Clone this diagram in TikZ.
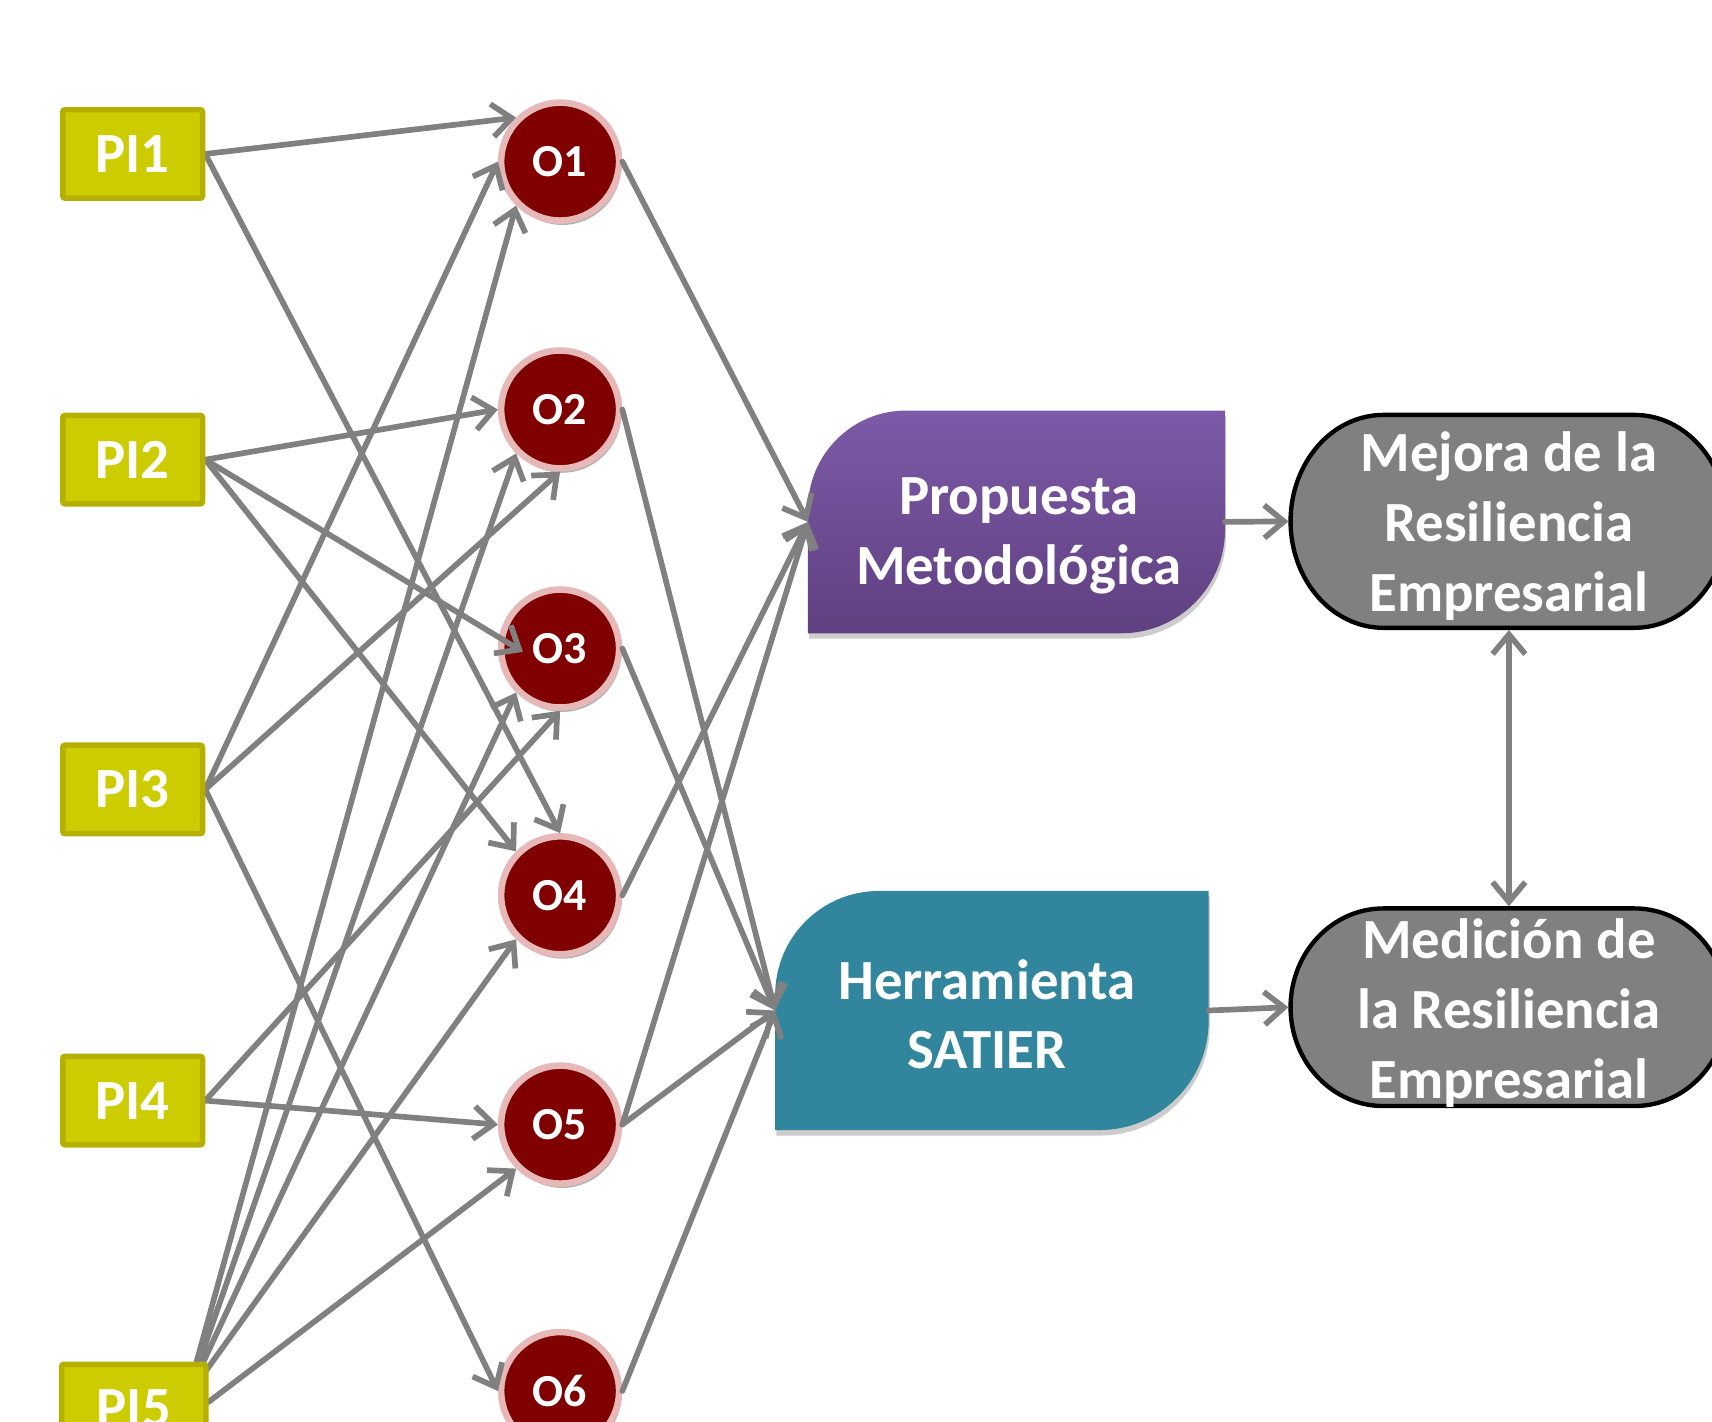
\documentclass[tikz,border=0pt]{standalone}
\usepackage{fontspec}
\setmainfont{Carlito}
\usetikzlibrary{arrows.meta,shadows}
\definecolor{piFill}{HTML}{CCCC00}
\definecolor{piBorder}{HTML}{B5B000}
\definecolor{oFill}{HTML}{800000}
\definecolor{oRing}{HTML}{E6B9B8}
\definecolor{lineGrey}{HTML}{808080}
\definecolor{pmTop}{HTML}{7D5AA8}
\definecolor{pmBot}{HTML}{5F4080}
\definecolor{hsFill}{HTML}{31869E}
\definecolor{boxGrey}{HTML}{808080}
\pgfdeclarelayer{fg}
\pgfsetlayers{main,fg}
\begin{document}
\begin{tikzpicture}[x=0.5pt,y=-0.5pt,
  arr/.style={draw=lineGrey,line width=2.6pt,line cap=round,-{Straight Barb[length=9pt,width=15pt]}},
  dblarr/.style={draw=lineGrey,line width=2.6pt,{Straight Barb[length=9pt,width=15pt]}-{Straight Barb[length=9pt,width=15pt]}},
  pibox/.style={rectangle,fill=piFill,draw=piBorder,line width=2.5pt,minimum width=64pt,minimum height=40.5pt,rounded corners=1pt,inner sep=0pt,text=white,font=\fontsize{26}{30}\selectfont\bfseries},
  ocirc/.style={circle,fill=oFill,draw=oRing,line width=3pt,minimum size=54pt,inner sep=0pt,text=white,font=\fontsize{21}{24}\selectfont\bfseries,drop shadow={shadow xshift=1pt,shadow yshift=-2pt,opacity=0.3,fill=black}},
  anchorbox/.style={rectangle,draw=none,fill=none,inner sep=0pt,outer sep=0pt},
  bigtext/.style={align=center,text=white,inner sep=0pt,font=\fontsize{26}{32}\selectfont\bfseries},
  shadowfill/.style={fill=black,opacity=0.2}]
\useasboundingbox (0,0) rectangle (1568,1302);
\clip (0,0) rectangle (1568,1302);

% ---------- PI boxes (foreground layer) ----------
\begin{pgfonlayer}{fg}
\begin{scope}
\clip (0,0) rectangle (1568,1302);
\node[pibox] (PI1) at (121.5,141) {PI1};
\node[pibox] (PI2) at (121.5,421) {PI2};
\node[pibox] (PI3) at (121.5,723) {PI3};
\node[pibox] (PI4) at (121.5,1008) {PI4};
\node[pibox,minimum width=66pt] (PI5) at (122.5,1290) {PI5};
\end{scope}
\end{pgfonlayer}

% ---------- O circles ----------
\node[ocirc] (O1) at (513,148) {O1};
\node[ocirc] (O2) at (513,375) {O2};
\node[ocirc] (O3) at (513,594) {O3};
\node[ocirc] (O4) at (513,820) {O4};
\node[ocirc] (O5) at (513,1030) {O5};
\node[ocirc] (O6) at (513,1274) {O6};

% ---------- Propuesta Metodologica ----------
\fill[shadowfill] (741,585) -- (741,471) .. controls (741,421.3) and (781.3,381) .. (831,381) -- (1123,381) -- (1123,490) .. controls (1123,542.5) and (1080.5,585) .. (1028,585) -- cycle;
\shade[top color=pmTop,bottom color=pmBot] (740,580) -- (740,466) .. controls (740,416.3) and (780.3,376) .. (830,376) -- (1122,376) -- (1122,485) .. controls (1122,537.5) and (1079.5,580) .. (1027,580) -- cycle;
\node[anchorbox,minimum width=191pt,minimum height=102pt] (PM) at (931,478) {};
\node[bigtext] (PMt) at (933,491) {Propuesta\\Metodológica};

% ---------- Herramienta SATIER ----------
\fill[shadowfill] (711,1040) -- (711,916) .. controls (711,863.5) and (753.5,821) .. (806,821) -- (1108,821) -- (1108,940) .. controls (1108,995.2) and (1063.2,1040) .. (1008,1040) -- cycle;
\fill[hsFill] (710,1035) -- (710,911) .. controls (710,858.5) and (752.5,816) .. (805,816) -- (1107,816) -- (1107,935) .. controls (1107,990.2) and (1062.2,1035) .. (1007,1035) -- cycle;
\node[anchorbox,minimum width=198.5pt,minimum height=109.5pt] (HS) at (908.5,925.5) {};
\node[bigtext] (HSt) at (904,929) {Herramienta\\SATIER};

% ---------- Mejora ----------
\draw[fill=boxGrey,draw=black,line width=2pt] (1267,380) -- (1497,380) .. controls (1543.9,380) and (1582,423.65) .. (1582,477.5) .. controls (1582,531.35) and (1543.9,575) .. (1497,575) -- (1267,575) .. controls (1220.1,575) and (1182,531.35) .. (1182,477.5) .. controls (1182,423.65) and (1220.1,380) .. (1267,380) -- cycle;
\node[anchorbox,minimum width=202pt,minimum height=99.5pt] (ME) at (1382,477.5) {};
\node[bigtext] (MEt) at (1382,482) {Mejora de la\\Resiliencia\\Empresarial};

% ---------- Medicion ----------
\draw[fill=boxGrey,draw=black,line width=2pt] (1267,832) -- (1497,832) .. controls (1543.9,832) and (1582,872.5) .. (1582,922.5) .. controls (1582,972.5) and (1543.9,1013) .. (1497,1013) -- (1267,1013) .. controls (1220.1,1013) and (1182,972.5) .. (1182,922.5) .. controls (1182,872.5) and (1220.1,832) .. (1267,832) -- cycle;
\node[anchorbox,minimum width=202pt,minimum height=92.5pt] (MD) at (1382,922.5) {};
\node[bigtext] (MDt) at (1382,928) {Medición de\\la Resiliencia\\Empresarial};

% ---------- connectors PI -> O ----------
\draw[arr] (PI1.east) -- (O1.135);
\draw[arr] (PI1.east) -- (O4.90);
\draw[arr] (PI2.east) -- (O2.180);
\draw[arr] (PI2.east) -- ([shift={(23,3)}]O3.west);
\draw[arr] (PI2.east) -- (O4.135);
\draw[arr] (PI3.east) -- (O1.180);
\draw[arr] (PI3.east) -- (O2.270);
\draw[arr] (PI3.east) -- (O6.180);
\draw[arr] (PI4.east) -- (O3.270);
\draw[arr] (PI4.east) -- (O5.180);
\draw[arr] ([shift={(-20,-10)}]PI5.east) -- (O1.225);
\draw[arr] ([shift={(-20,-10)}]PI5.east) -- (O2.225);
\draw[arr] ([shift={(-20,-10)}]PI5.east) -- (O3.225);
\draw[arr] ([shift={(-20,-10)}]PI5.east) -- (O4.225);
\draw[arr] ([shift={(0,-6)}]PI5.east) -- (O5.225);

% ---------- connectors O -> products ----------
\draw[arr] (O1.east) -- (PM.west);
\draw[arr] (O4.east) -- (PM.west);
\draw[arr] (O5.east) -- (PM.west);
\draw[arr] (O2.east) -- (HS.west);
\draw[arr] (O3.east) -- (HS.west);
\draw[arr] (O5.east) -- (HS.west);
\draw[arr] (O6.east) -- (HS.west);

% ---------- products -> results ----------
\draw[arr] (PM.east) -- (ME.west);
\draw[arr] (HS.east) -- (MD.west);
\draw[dblarr] (ME.south) -- (MD.north);
\end{tikzpicture}
\end{document}
